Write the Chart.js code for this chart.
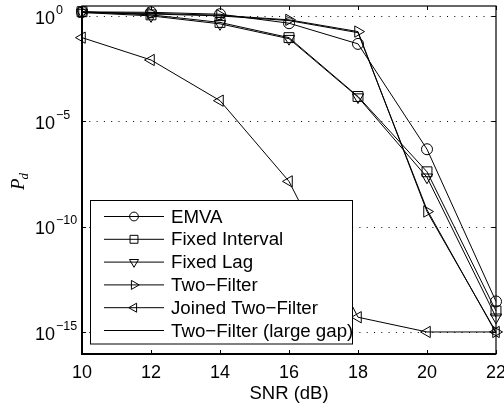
<!DOCTYPE html>
<html>
<head>
<meta charset="utf-8">
<script src="https://cdn.jsdelivr.net/npm/chart.js@4.4.1/dist/chart.umd.min.js"></script>
<style>
  html, body { margin: 0; padding: 0; background: #fff; }
</style>
</head>
<body>
<canvas id="chart" width="504" height="407"></canvas>
<script>
// values (log axis)
const snr = [10, 12, 14, 16, 18, 20, 22];
const emva = [1.55, 1.48, 1.2, 0.45, 0.047, 4.7e-7, 2.8e-14];
const fixedInterval = [1.58, 1.12, 0.49, 0.093, 1.5e-4, 4.0e-8, 1.0e-14];
const fixedLag = [1.45, 1.0, 0.42, 0.083, 1.4e-4, 2.2e-8, 5.0e-15];
const twoFilter = [1.51, 1.32, 1.07, 0.65, 0.18, 5.2e-10, 1.0e-15];
const joinedTwoFilter = [0.093, 8.1e-3, 9.5e-5, 1.4e-8, 5.0e-15, 1.0e-15, 1.0e-15];
const twoFilterLargeGap = [1.45, 1.23, 1.0, 0.6, 0.16, 6.3e-10, 9.0e-16];

const xTicks = [10, 12, 14, 16, 18, 20, 22];
const yTicks = [1, 1e-5, 1e-10, 1e-15];
const yTickExp = ['0', '\u22125', '\u221210', '\u221215'];

const FONT = '"Liberation Sans", Arial, Helvetica, sans-serif';

function series(label, values, style, rotation, radius) {
    return {
        label: label,
        data: snr.map((x, i) => ({ x: x, y: values[i] })),
        borderColor: '#000',
        borderWidth: 1,
        backgroundColor: 'rgba(0,0,0,0)',
        pointStyle: style,
        pointRotation: rotation,
        pointRadius: radius,
        pointBorderColor: '#000',
        pointBorderWidth: 1,
        pointBackgroundColor: 'rgba(0,0,0,0)',
        tension: 0,
        clip: false
    };
}

const datasets = [
    series('EMVA', emva, 'circle', 0, 5.5),
    series('Fixed Interval', fixedInterval, 'rect', 0, 7),
    series('Fixed Lag', fixedLag, 'triangle', 180, 6.5),
    series('Two\u2212Filter', twoFilter, 'triangle', 90, 6.5),
    series('Joined Two\u2212Filter', joinedTwoFilter, 'triangle', -90, 6.5),
    series('Two\u2212Filter (large gap)', twoFilterLargeGap, false, 0, 0)
];

function drawMarker(ctx, style, rot, x, y, r) {
    if (!style) return;
    ctx.beginPath();
    if (style === 'circle') {
        ctx.arc(x, y, r, 0, Math.PI * 2);
    } else if (style === 'rect') {
        const s = r * Math.SQRT1_2;
        ctx.rect(x - s, y - s, 2 * s, 2 * s);
    } else if (style === 'triangle') {
        let rad = rot * Math.PI / 180;
        for (let k = 0; k < 3; k++) {
            const px = x + Math.sin(rad) * r, py = y - Math.cos(rad) * r;
            if (k === 0) ctx.moveTo(px, py); else ctx.lineTo(px, py);
            rad += 2 * Math.PI / 3;
        }
        ctx.closePath();
    }
    ctx.stroke();
}

const axesPlugin = {
    id: 'matlabAxes',
    beforeDatasetsDraw(chart) {
        const { ctx, chartArea: a, scales: { y } } = chart;
        ctx.save();
        ctx.strokeStyle = '#000';
        ctx.lineWidth = 1;
        ctx.setLineDash([1, 6.3]);
        yTicks.forEach(v => {
            const py = Math.round(y.getPixelForValue(v)) + 0.5;
            ctx.beginPath();
            ctx.moveTo(a.left, py);
            ctx.lineTo(a.right, py);
            ctx.stroke();
        });
        ctx.restore();
    },
    afterDatasetsDraw(chart) {
        const { ctx } = chart;
        // legend box
        const box = { left: 90.5, top: 200.5, right: 352.5, bottom: 344 };
        ctx.save();
        ctx.fillStyle = '#fff';
        ctx.fillRect(box.left, box.top, box.right - box.left, box.bottom - box.top);
        ctx.strokeStyle = '#000';
        ctx.lineWidth = 1;
        ctx.strokeRect(box.left, box.top, box.right - box.left, box.bottom - box.top);
        ctx.font = '18.7px ' + FONT;
        ctx.fillStyle = '#000';
        ctx.textBaseline = 'middle';
        chart.data.datasets.forEach((ds, i) => {
            const ly = 216.5 + i * 22.8;
            ctx.beginPath();
            ctx.moveTo(104, ly);
            ctx.lineTo(164, ly);
            ctx.stroke();
            drawMarker(ctx, ds.pointStyle, ds.pointRotation, 134, ly, ds.pointRadius * 0.8);
            ctx.fillText(ds.label, 171, ly + 1);
        });
        ctx.restore();
    },
    afterDraw(chart) {
        const { ctx, chartArea: a, scales: { x, y } } = chart;
        ctx.save();
        ctx.strokeStyle = '#000';
        ctx.lineWidth = 1;
        // inward ticks
        ctx.beginPath();
        xTicks.forEach(v => {
            const px = Math.round(x.getPixelForValue(v)) + 0.5;
            ctx.moveTo(px, a.bottom); ctx.lineTo(px, a.bottom - 4);
            ctx.moveTo(px, a.top); ctx.lineTo(px, a.top + 4);
        });
        yTicks.forEach(v => {
            const py = Math.round(y.getPixelForValue(v)) + 0.5;
            ctx.moveTo(a.left, py); ctx.lineTo(a.left + 4, py);
            ctx.moveTo(a.right, py); ctx.lineTo(a.right - 4, py);
        });
        ctx.stroke();
        // frame
        ctx.lineWidth = 1.2;
        ctx.strokeRect(a.left, a.top, a.right - a.left, a.bottom - a.top);
        ctx.lineWidth = 2;
        ctx.beginPath();
        ctx.moveTo(a.left, a.top); ctx.lineTo(a.left, a.bottom); ctx.lineTo(a.right, a.bottom);
        ctx.stroke();

        // tick labels
        ctx.fillStyle = '#000';
        ctx.textBaseline = 'alphabetic';
        ctx.font = '18px ' + FONT;
        ctx.textAlign = 'center';
        xTicks.forEach(v => {
            ctx.fillText(String(v), x.getPixelForValue(v), 377.5);
        });
        ctx.textAlign = 'left';
        yTicks.forEach((v, i) => {
            const py = y.getPixelForValue(v);
            ctx.font = '18px ' + FONT;
            ctx.fillText('10', 35, py + 7.8);
            ctx.font = '12.5px ' + FONT;
            ctx.fillText(yTickExp[i], 56, py - 2.3);
        });

        // axis titles
        ctx.font = '18.5px ' + FONT;
        ctx.textAlign = 'center';
        ctx.fillText('SNR (dB)', (a.left + a.right) / 2, 399);

        ctx.translate(24, 182);
        ctx.rotate(-Math.PI / 2);
        ctx.textAlign = 'left';
        ctx.font = 'italic 19px "Liberation Serif", "DejaVu Serif", serif';
        ctx.fillText('P', -8, 0);
        const pw = ctx.measureText('P').width;
        ctx.font = 'italic 13px "Liberation Serif", "DejaVu Serif", serif';
        ctx.fillText('d', -8 + pw - 1, 4);
        ctx.restore();
    }
};

new Chart(document.getElementById('chart'), {
    type: 'line',
    data: { datasets: datasets },
    options: {
        responsive: false,
        animation: false,
        devicePixelRatio: 1,
        layout: { autoPadding: false, padding: { left: 82, right: 8, top: 6, bottom: 53 } },
        plugins: { legend: { display: false }, tooltip: { enabled: false } },
        scales: {
            x: { type: 'linear', display: false, min: 10, max: 22 },
            y: { type: 'logarithmic', display: false, min: 9.3e-17, max: 2.95 }
        }
    },
    plugins: [axesPlugin]
});
</script>
</body>
</html>
